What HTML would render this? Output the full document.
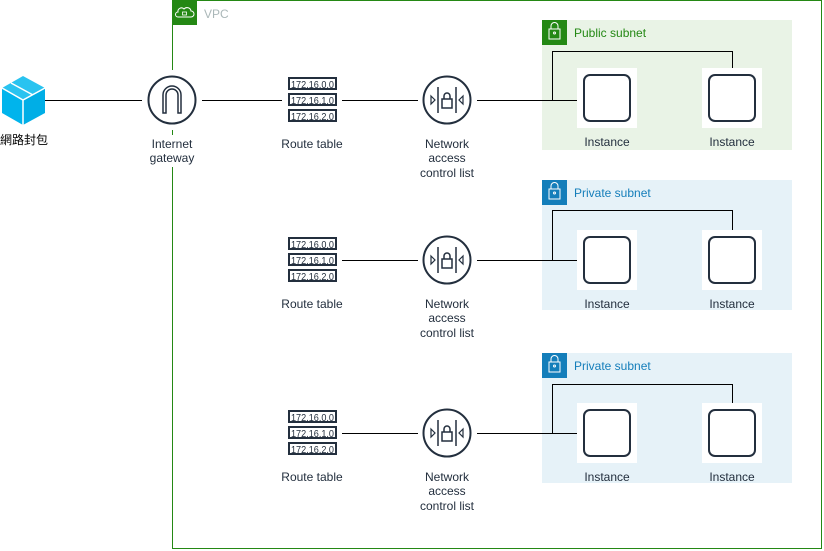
<!DOCTYPE html>
<html><head><meta charset="utf-8"><style>
html,body{margin:0;padding:0;background:#fff;}
svg{display:block;font-family:"Liberation Sans","Noto Sans CJK TC",sans-serif;}
</style></head><body>
<svg width="824" height="551" viewBox="0 0 824 551" xmlns="http://www.w3.org/2000/svg">
<rect x="172.5" y="0.5" width="649" height="548" fill="none" stroke="#248814" stroke-width="1"/>
<rect x="172" y="0" width="25" height="25" fill="#248814"/>
<path d="M178 17 h13 a3 3 0 0 0 0-6 a4 4 0 0 0-7-2 a3.5 3.5 0 0 0-6 3 a2.5 2.5 0 0 0 0 5z" fill="none" stroke="#fff" stroke-width="1"/>
<rect x="182.5" y="12" width="4" height="3" fill="none" stroke="#fff" stroke-width="0.8"/>
<text x="204" y="18" font-size="12" fill="#aab7b8">VPC</text>

<rect x="542" y="20" width="250" height="130" fill="#e9f3e6"/>
<rect x="542" y="20" width="25" height="25" fill="#248814"/>
<text x="574" y="37" font-size="12" fill="#248814">Public subnet</text>
<rect x="542" y="180" width="250" height="130" fill="#e6f2f8"/>
<rect x="542" y="180" width="25" height="25" fill="#147eba"/>
<text x="574" y="197" font-size="12" fill="#147eba">Private subnet</text>
<rect x="542" y="353" width="250" height="130" fill="#e6f2f8"/>
<rect x="542" y="353" width="25" height="25" fill="#147eba"/>
<text x="574" y="370" font-size="12" fill="#147eba">Private subnet</text>
<g fill="none" stroke="#fff" stroke-width="1">
<rect x="549" y="29" width="11" height="10"/><path d="M551 29 v-3 a3.5 3.5 0 0 1 7 0 v3"/><circle cx="554.5" cy="33" r="1"/>
<rect x="549" y="189" width="11" height="10"/><path d="M551 189 v-3 a3.5 3.5 0 0 1 7 0 v3"/><circle cx="554.5" cy="193" r="1"/>
<rect x="549" y="362" width="11" height="10"/><path d="M551 362 v-3 a3.5 3.5 0 0 1 7 0 v3"/><circle cx="554.5" cy="366" r="1"/>
</g>

<g stroke="#000" stroke-width="1" fill="none">
<path d="M45 100.5 H142"/><path d="M202 100.5 H282"/><path d="M342 100.5 H418"/>
<path d="M477 100.5 H577 M552.5 100.5 V51.5 H732.5 V68"/>
<path d="M342 260.5 H418"/>
<path d="M477 260.5 H577 M552.5 260.5 V210.5 H732.5 V230"/>
<path d="M342 433.5 H418"/>
<path d="M477 433.5 H577 M552.5 433.5 V384.5 H732.5 V403"/>
</g>

<g>
<path d="M2 88 L23 76 L45 88 L23 100 Z" fill="#29c3f0"/>
<path d="M2 88 L23 100 V125 L2 113 Z" fill="#00b4ec"/>
<path d="M45 88 L23 100 V125 L45 113 Z" fill="#00aee6"/>
<path d="M2 88 L23 100 L45 88 M23 100 V125 M11 83 L33 95" stroke="#fff" stroke-width="1.5" fill="none"/>
<text x="24" y="144" font-size="12" fill="#000" text-anchor="middle">網路封包</text>
</g>

<rect x="142" y="70" width="60" height="60" fill="#fff"/>
<circle cx="172" cy="100" r="23.5" fill="none" stroke="#232f3e" stroke-width="2"/>
<path d="M163 113 V95 a9 9 0 0 1 18 0 V113 h-3 V95 a6 6 0 0 0-12 0 V113 z" fill="none" stroke="#232f3e" stroke-width="1.5"/>
<rect x="148" y="135" width="48" height="32" fill="#fff"/>
<text font-size="12" fill="#232f3e" text-anchor="middle"><tspan x="172" y="148">Internet</tspan><tspan x="172" y="162">gateway</tspan></text>

<g font-size="10.5" fill="#232f3e" text-anchor="middle">
<g>
<rect x="288" y="77" width="49" height="13" fill="#232f3e"/><rect x="290" y="79" width="45" height="9" fill="#fff"/>
<rect x="288" y="93" width="49" height="13" fill="#232f3e"/><rect x="290" y="95" width="45" height="9" fill="#fff"/>
<rect x="288" y="109" width="49" height="13" fill="#232f3e"/><rect x="290" y="111" width="45" height="9" fill="#fff"/>
<text x="312.5" y="88" textLength="43" lengthAdjust="spacingAndGlyphs">172.16.0.0</text><text x="312.5" y="104" textLength="43" lengthAdjust="spacingAndGlyphs">172.16.1.0</text><text x="312.5" y="120" textLength="43" lengthAdjust="spacingAndGlyphs">172.16.2.0</text>
</g>
<g transform="translate(0,160)">
<rect x="288" y="77" width="49" height="13" fill="#232f3e"/><rect x="290" y="79" width="45" height="9" fill="#fff"/>
<rect x="288" y="93" width="49" height="13" fill="#232f3e"/><rect x="290" y="95" width="45" height="9" fill="#fff"/>
<rect x="288" y="109" width="49" height="13" fill="#232f3e"/><rect x="290" y="111" width="45" height="9" fill="#fff"/>
<text x="312.5" y="88" textLength="43" lengthAdjust="spacingAndGlyphs">172.16.0.0</text><text x="312.5" y="104" textLength="43" lengthAdjust="spacingAndGlyphs">172.16.1.0</text><text x="312.5" y="120" textLength="43" lengthAdjust="spacingAndGlyphs">172.16.2.0</text>
</g>
<g transform="translate(0,333)">
<rect x="288" y="77" width="49" height="13" fill="#232f3e"/><rect x="290" y="79" width="45" height="9" fill="#fff"/>
<rect x="288" y="93" width="49" height="13" fill="#232f3e"/><rect x="290" y="95" width="45" height="9" fill="#fff"/>
<rect x="288" y="109" width="49" height="13" fill="#232f3e"/><rect x="290" y="111" width="45" height="9" fill="#fff"/>
<text x="312.5" y="88" textLength="43" lengthAdjust="spacingAndGlyphs">172.16.0.0</text><text x="312.5" y="104" textLength="43" lengthAdjust="spacingAndGlyphs">172.16.1.0</text><text x="312.5" y="120" textLength="43" lengthAdjust="spacingAndGlyphs">172.16.2.0</text>
</g>
</g>

<g font-size="12" fill="#232f3e" text-anchor="middle">
<text x="312" y="148">Route table</text>
<text x="312" y="308">Route table</text>
<text x="312" y="481">Route table</text>
<text><tspan x="447" y="148">Network</tspan><tspan x="447" y="162">access</tspan><tspan x="447" y="177">control list</tspan></text>
<text><tspan x="447" y="308">Network</tspan><tspan x="447" y="322">access</tspan><tspan x="447" y="337">control list</tspan></text>
<text><tspan x="447" y="481">Network</tspan><tspan x="447" y="495">access</tspan><tspan x="447" y="510">control list</tspan></text>
</g>

<g fill="none" stroke="#232f3e" stroke-width="2">
<g><circle cx="447" cy="100" r="23.5"/><path d="M438 87 V113 M456 87 V113" stroke-width="1.5"/><rect x="442" y="99" width="10" height="9" stroke-width="1.5"/><path d="M444 99 v-3 a3 3 0 0 1 6 0 v3" stroke-width="1.5"/><path d="M431 96 l4 4 l-4 4z M463 96 l-4 4 l4 4z" stroke-width="1.2"/></g>
<g transform="translate(0,160)"><circle cx="447" cy="100" r="23.5"/><path d="M438 87 V113 M456 87 V113" stroke-width="1.5"/><rect x="442" y="99" width="10" height="9" stroke-width="1.5"/><path d="M444 99 v-3 a3 3 0 0 1 6 0 v3" stroke-width="1.5"/><path d="M431 96 l4 4 l-4 4z M463 96 l-4 4 l4 4z" stroke-width="1.2"/></g>
<g transform="translate(0,333)"><circle cx="447" cy="100" r="23.5"/><path d="M438 87 V113 M456 87 V113" stroke-width="1.5"/><rect x="442" y="99" width="10" height="9" stroke-width="1.5"/><path d="M444 99 v-3 a3 3 0 0 1 6 0 v3" stroke-width="1.5"/><path d="M431 96 l4 4 l-4 4z M463 96 l-4 4 l4 4z" stroke-width="1.2"/></g>
</g>

<g>
<rect x="577" y="68" width="60" height="60" fill="#fff"/><rect x="584" y="75" width="46" height="46" rx="6" fill="none" stroke="#232f3e" stroke-width="2"/>
<rect x="702" y="68" width="60" height="60" fill="#fff"/><rect x="709" y="75" width="46" height="46" rx="6" fill="none" stroke="#232f3e" stroke-width="2"/>
<rect x="577" y="230" width="60" height="60" fill="#fff"/><rect x="584" y="237" width="46" height="46" rx="6" fill="none" stroke="#232f3e" stroke-width="2"/>
<rect x="702" y="230" width="60" height="60" fill="#fff"/><rect x="709" y="237" width="46" height="46" rx="6" fill="none" stroke="#232f3e" stroke-width="2"/>
<rect x="577" y="403" width="60" height="60" fill="#fff"/><rect x="584" y="410" width="46" height="46" rx="6" fill="none" stroke="#232f3e" stroke-width="2"/>
<rect x="702" y="403" width="60" height="60" fill="#fff"/><rect x="709" y="410" width="46" height="46" rx="6" fill="none" stroke="#232f3e" stroke-width="2"/>
</g>
<g font-size="12" fill="#232f3e" text-anchor="middle">
<text x="607" y="146">Instance</text><text x="732" y="146">Instance</text>
<text x="607" y="308">Instance</text><text x="732" y="308">Instance</text>
<text x="607" y="481">Instance</text><text x="732" y="481">Instance</text>
</g>
</svg>
</body></html>
